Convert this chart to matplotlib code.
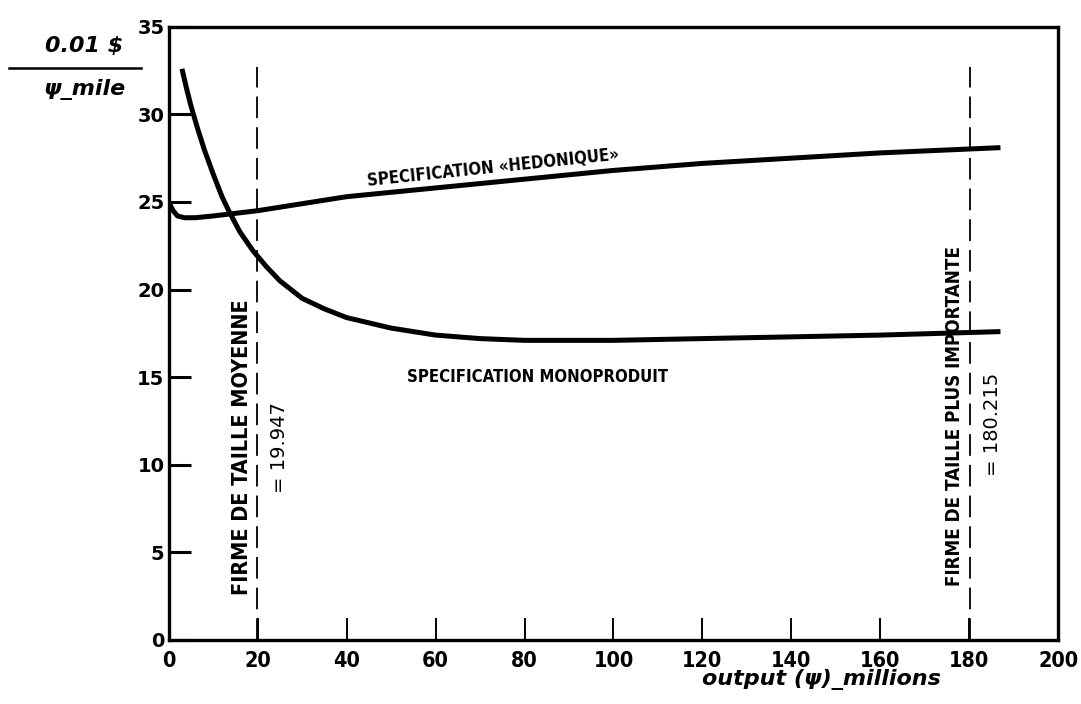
import numpy as np
import matplotlib.pyplot as plt
from matplotlib.lines import Line2D

# data
mono_x = [3, 4, 5, 6.5, 8, 10, 12, 13.5, 16, 19, 22, 25, 30, 35, 40, 50, 60, 70, 80,
          100, 120, 140, 160, 187]
mono_y = [32.6, 31.5, 30.5, 29.2, 28.0, 26.6, 25.3, 24.5, 23.3, 22.2, 21.3, 20.5, 19.5,
          18.9, 18.4, 17.8, 17.4, 17.2, 17.1, 17.1, 17.2, 17.3, 17.4, 17.6]
hedo_x = [0, 1, 2, 3.5, 6, 10, 20, 40, 60, 80, 100, 120, 140, 160, 187]
hedo_y = [25.0, 24.5, 24.2, 24.1, 24.1, 24.2, 24.5, 25.3, 25.8, 26.3, 26.8, 27.2, 27.5,
          27.8, 28.1]
firm_avg = 19.947
firm_big = 180.215
xticks = [0, 20, 40, 60, 80, 100, 120, 140, 160, 180, 200]
yticks = [0, 5, 10, 15, 20, 25, 30, 35]

cond = dict(family='DejaVu Sans', fontweight='bold', fontstretch='condensed')

fig = plt.figure(figsize=(10.81, 7.04), dpi=100)
ax = fig.add_axes([0.156, 0.091, 0.823, 0.871])

ax.plot(mono_x, mono_y, color='black', lw=3.6, solid_capstyle='butt')
ax.plot(hedo_x, hedo_y, color='black', lw=3.6, solid_capstyle='butt')

for xv in (firm_avg, firm_big):
  ax.plot([xv, xv], [0, 32.7], color='black', lw=1.3, ls=(0, (12, 5)))

ax.text(firm_avg - 3.5, 11.0, 'FIRME DE TAILLE MOYENNE', rotation=90, ha='center',
        va='center', fontsize=15.5, **cond)
ax.text(firm_avg + 5.0, 11.0, '= 19.947', rotation=90, ha='center', va='center',
        fontsize=14, family='DejaVu Sans')
ax.text(firm_big - 3.5, 12.8, 'FIRME DE TAILLE PLUS IMPORTANTE', rotation=90, ha='center',
        va='center', fontsize=13.5, **cond)
ax.text(firm_big + 5.0, 12.3, '= 180.215', rotation=90, ha='center', va='center',
        fontsize=14, family='DejaVu Sans')

ax.text(73, 26.95, 'SPECIFICATION «HEDONIQUE»', rotation=6, ha='center', va='center',
        fontsize=12, **cond)
ax.text(83, 15.0, 'SPECIFICATION MONOPRODUIT', ha='center', va='center',
        fontsize=12, **cond)

ax.set_xlim(0, 200)
ax.set_ylim(0, 35)
ax.set_xticks(xticks)
ax.set_yticks(yticks)
ax.set_xticklabels([str(v) for v in xticks], fontsize=15.5, **cond)
ax.set_yticklabels([str(v) for v in yticks], family='DejaVu Sans', fontsize=14, fontweight='bold')
ax.tick_params(axis='x', direction='in', length=16, width=1.4, pad=8)
ax.tick_params(axis='y', direction='in', length=16, width=2.2, pad=3)
for s in ax.spines.values():
  s.set_linewidth(2.4)

# y axis unit as a fraction, x axis label
fig.text(0.078, 0.935, '0.01 $', ha='center', va='center', fontsize=16,
         fontweight='bold', style='italic')
fig.add_artist(Line2D([0.008, 0.13], [0.904, 0.904], color='black', lw=1.8))
fig.text(0.078, 0.873, 'ψ_mile', ha='center', va='center', fontsize=16,
         fontweight='bold', style='italic')
fig.text(0.76, 0.035, 'output (ψ)_millions', ha='center', va='center', fontsize=16,
         fontweight='bold', style='italic')

fig.savefig('out.png', dpi=100)
